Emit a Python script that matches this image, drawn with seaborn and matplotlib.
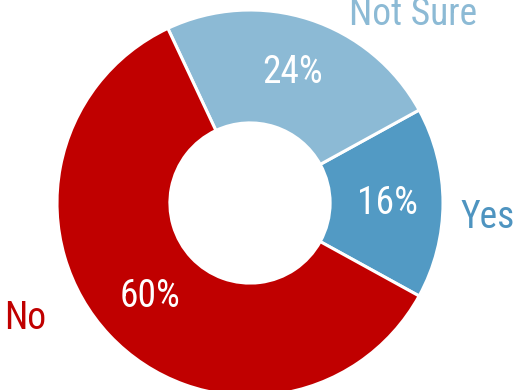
import matplotlib
matplotlib.use("Agg")
import matplotlib.pyplot as plt
from matplotlib import font_manager
import seaborn as sns

# Survey answers, in counter-clockwise drawing order
answers = ["Yes", "Not Sure", "No"]
shares = [16, 24, 60]
slice_colors = ["#529AC4", "#8CBAD5", "#C00000"]
label_colors = ["#4E94C0", "#8CBAD5", "#C00000"]

sns.set_theme(style="white")

# Prefer a narrow sans face for the labels
available = {(f.name, f.stretch) for f in font_manager.fontManager.ttflist}
names = {n for n, _ in available}
if "Roboto Condensed" in names:
    family, stretch, size = "Roboto Condensed", "normal", 27
elif ("DejaVu Sans", "condensed") in available:
    family, stretch, size = "DejaVu Sans", "condensed", 22
else:
    family, stretch, size = "DejaVu Sans", "normal", 20
plt.rcParams["font.family"] = [family, "DejaVu Sans"]
plt.rcParams["font.stretch"] = stretch

fig = plt.figure(figsize=(5.15, 3.90), dpi=100)
ax = fig.add_axes([0, 0, 1, 1])

wedges, texts, autotexts = ax.pie(
    shares,
    labels=answers,
    colors=slice_colors,
    startangle=-shares[0] / 100 * 180,
    counterclock=True,
    autopct=lambda p: f"{p:.0f}%",
    pctdistance=0.71,
    labeldistance=1.25,
    wedgeprops=dict(width=0.585, edgecolor="white", linewidth=2.2),
    textprops=dict(fontsize=size, fontstretch=stretch),
)

for t in autotexts:
    t.set_color("white")

# Outside category labels placed beside their slices
label_pos = {"Yes": (1.230, -0.073), "Not Sure": (0.845, 0.975), "No": (-1.166, -0.596)}
for t, c in zip(texts, label_colors):
    t.set_color(c)
    t.set_position(label_pos[t.get_text()])
    t.set_ha("center")
    t.set_va("center")

ax.set_aspect("auto")
ax.set_xlim(-250 / 193, (515 - 250) / 193)
ax.set_ylim(-(390 - 203) / 193, 203 / 193)
ax.axis("off")

fig.savefig("out.png", dpi=100, facecolor="white")
